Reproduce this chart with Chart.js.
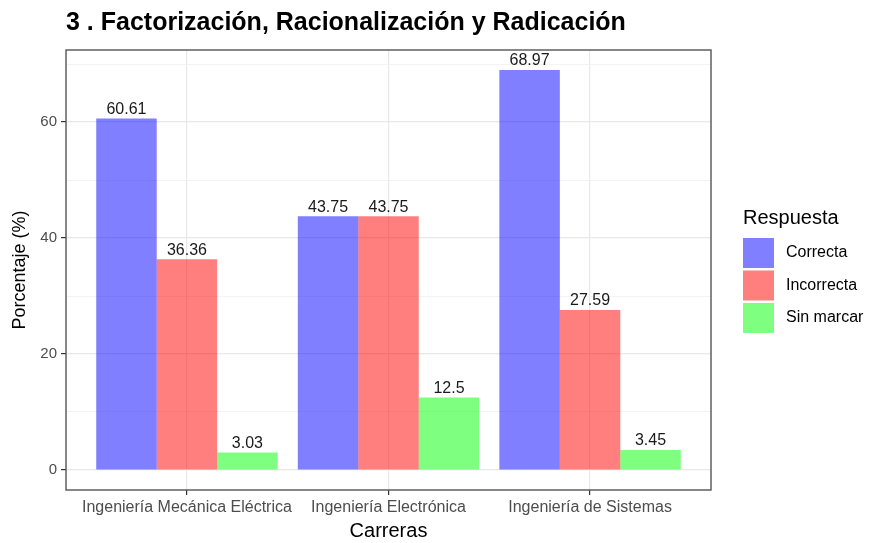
<!DOCTYPE html>
<html lang="es">
<head>
    <meta charset="UTF-8">
    <title>Factorización, Racionalización y Radicación</title>
    <script src="https://cdn.jsdelivr.net/npm/chart.js"></script>
    <style>
        body { margin: 0; background: #fff; }
        #wrap { width: 869px; height: 543px; }
    </style>
</head>
<body>
    <div id="wrap"><canvas id="chart"></canvas></div>

    <script>
        // data
        const carreras = ['Ingeniería Mecánica Eléctrica', 'Ingeniería Electrónica', 'Ingeniería de Sistemas'];
        const correcta = [60.61, 43.75, 68.97];
        const incorrecta = [36.36, 43.75, 27.59];
        const sinMarcar = [3.03, 12.5, 3.45];
        const yTicks = [0, 10, 20, 30, 40, 50, 60, 70];

        const colors = {
            correcta: 'rgba(0, 0, 255, 0.5)',
            incorrecta: 'rgba(255, 0, 0, 0.5)',
            sinMarcar: 'rgba(0, 255, 0, 0.5)'
        };

        const font = 'Liberation Sans, Arial, sans-serif';

        function toPoints(values) {
            return values.map((v, i) => ({ x: i + 1, y: v }));
        }

        // value labels above bars + panel border + legend
        const extras = {
            id: 'extras',
            afterDatasetsDraw(chart) {
                const ctx = chart.ctx;
                ctx.save();
                ctx.font = '16px ' + font;
                ctx.fillStyle = '#1a1a1a';
                ctx.textAlign = 'center';
                ctx.textBaseline = 'bottom';
                chart.data.datasets.forEach((ds, di) => {
                    chart.getDatasetMeta(di).data.forEach((bar, i) => {
                        ctx.fillText(String(ds.data[i].y), bar.x, bar.y - 1);
                    });
                });
                ctx.restore();
            },
            afterDraw(chart) {
                const ctx = chart.ctx;
                const a = chart.chartArea;
                ctx.save();
                ctx.strokeStyle = '#555';
                ctx.lineWidth = 1.4;
                ctx.strokeRect(a.left, a.top, a.right - a.left, a.bottom - a.top);

                // legend
                const lx = a.right + 32;
                ctx.fillStyle = '#000';
                ctx.font = '20px ' + font;
                ctx.textAlign = 'left';
                ctx.textBaseline = 'middle';
                ctx.fillText('Respuesta', lx, 218);
                ctx.font = '16px ' + font;
                chart.data.datasets.forEach((ds, i) => {
                    const y = 238 + i * 32.5;
                    ctx.fillStyle = ds.backgroundColor;
                    ctx.fillRect(lx, y, 31, 30);
                    ctx.fillStyle = '#000';
                    ctx.fillText(ds.label, lx + 43, y + 15);
                });
                ctx.restore();
            }
        };

        const ctx = document.getElementById('chart').getContext('2d');
        new Chart(ctx, {
            type: 'bar',
            data: {
                datasets: [
                    { label: 'Correcta', data: toPoints(correcta), backgroundColor: colors.correcta },
                    { label: 'Incorrecta', data: toPoints(incorrecta), backgroundColor: colors.incorrecta },
                    { label: 'Sin marcar', data: toPoints(sinMarcar), backgroundColor: colors.sinMarcar }
                ]
            },
            options: {
                responsive: true,
                maintainAspectRatio: false,
                animation: false,
                layout: { padding: { left: 0, top: 0, right: 158, bottom: 0 } },
                datasets: {
                    bar: { categoryPercentage: 0.9, barPercentage: 1, borderWidth: 0 }
                },
                plugins: {
                    legend: { display: false },
                    tooltip: { enabled: false },
                    title: {
                        display: true,
                        text: '3 . Factorización, Racionalización y Radicación',
                        align: 'start',
                        fullSize: false,
                        color: '#000',
                        font: { family: font, size: 25, weight: 'bold' },
                        padding: { top: 8, bottom: 12 }
                    }
                },
                scales: {
                    x: {
                        type: 'linear',
                        offset: false,
                        min: 0.4,
                        max: 3.6,
                        afterBuildTicks(scale) {
                            scale.ticks = carreras.map((c, i) => ({ value: i + 1 }));
                        },
                        afterFit(scale) { scale.height = 53; },
                        border: { display: false },
                        grid: { offset: false, color: '#e8e8e8', lineWidth: 1.2, tickColor: '#333', tickLength: 5 },
                        ticks: {
                            autoSkip: false,
                            maxRotation: 0,
                            padding: 3,
                            color: '#4d4d4d',
                            font: { family: font, size: 16 },
                            callback: v => carreras[v - 1]
                        },
                        title: {
                            display: true,
                            text: 'Carreras',
                            color: '#000',
                            font: { family: font, size: 20 },
                            padding: { top: 0, bottom: 0 }
                        }
                    },
                    y: {
                        min: -3.45,
                        max: 72.42,
                        afterBuildTicks(scale) {
                            scale.ticks = yTicks.map(v => ({ value: v }));
                        },
                        afterFit(scale) { scale.width = 66; },
                        border: { display: false },
                        grid: {
                            color: c => c.tick && c.tick.value % 20 ? '#f0f0f0' : '#e8e8e8',
                            lineWidth: c => c.tick && c.tick.value % 20 ? 0.8 : 1.2,
                            tickColor: c => c.tick && c.tick.value % 20 ? 'rgba(0,0,0,0)' : '#333',
                            tickLength: 5
                        },
                        ticks: {
                            padding: 4,
                            color: '#4d4d4d',
                            font: { family: font, size: 15 },
                            callback: v => (v % 20 === 0 ? String(v) : '')
                        },
                        title: {
                            display: true,
                            text: 'Porcentaje (%)',
                            color: '#000',
                            font: { family: font, size: 18 },
                            padding: { top: 9, bottom: 0 }
                        }
                    }
                }
            },
            plugins: [extras]
        });
    </script>
</body>
</html>
